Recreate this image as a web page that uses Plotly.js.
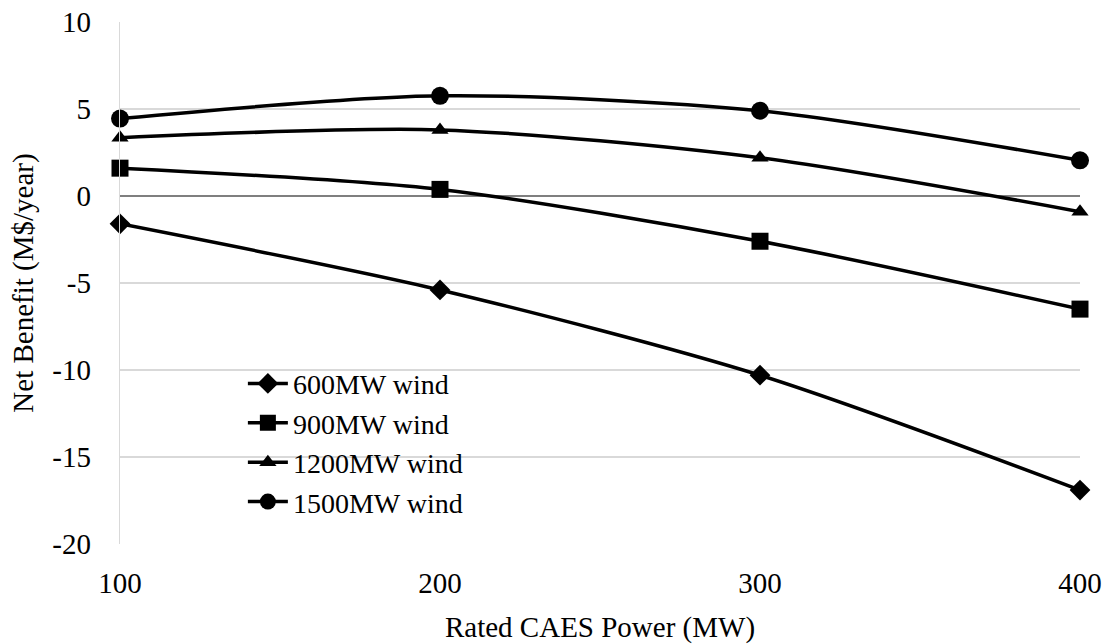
<!DOCTYPE html>
<html>
<head>
<meta charset="utf-8">
<script src="https://cdn.plot.ly/plotly-3.0.1.min.js"></script>
<style>html,body{margin:0;padding:0;background:#fff;}#chart{width:1110px;height:644px;}</style>
</head>
<body>
<div id="chart"></div>
<script>
const power = [100, 200, 300, 400];
const wind600 = [-1.6, -5.4, -10.3, -16.9];
const wind900 = [1.6, 0.38, -2.6, -6.5];
const wind1200 = [3.35, 3.8, 2.2, -0.9];
const wind1500 = [4.45, 5.76, 4.9, 2.05];
const seriesNames = ['600MW wind', '900MW wind', '1200MW wind', '1500MW wind'];
const seriesValues = [wind600, wind900, wind1200, wind1500];
const symbols = ['diamond', 'square', 'triangle-up', 'circle'];
const sizes = [16, 17, 15, 18];
const yTickVals = [-20, -15, -10, -5, 0, 5, 10];
const yTickText = ['-20', '-15', '-10', '-5', '0', '5', '10'];
const xTickVals = [100, 200, 300, 400];

const traces = seriesValues.map((vals, i) => ({
  x: power, y: vals, name: seriesNames[i], type: 'scatter', mode: 'lines+markers',
  line: {color: '#000', width: 3.5, shape: 'spline', smoothing: 0.8},
  marker: {symbol: symbols[i], size: sizes[i], color: '#000'},
  cliponaxis: false
}));

const FAM = 'Liberation Serif, Times New Roman, serif';
const layout = {
  width: 1110, height: 644,
  font: {family: FAM, size: 29, color: '#000'},
  margin: {l: 120, r: 30, t: 22, b: 100},
  paper_bgcolor: '#fff', plot_bgcolor: '#fff',
  showlegend: true,
  legend: {x: 0.128, y: 0.355, xanchor: 'left', yanchor: 'top', font: {family: FAM, size: 28, color: '#000'},
    bgcolor: 'rgba(0,0,0,0)', tracegroupgap: 0, itemwidth: 40},
  xaxis: {range: [100, 400], tickvals: xTickVals, showgrid: false, zeroline: false,
    showline: false, ticks: '', ticklabelstandoff: 19, tickfont: {family: FAM, size: 29, color: '#000'},
    title: {text: 'Rated CAES Power (MW)', font: {family: FAM, size: 29, color: '#000'}, standoff: 22}},
  yaxis: {range: [-20, 10], tickvals: yTickVals, ticktext: yTickText, showgrid: true, gridcolor: '#d9d9d9', gridwidth: 1.3,
    zeroline: true, zerolinecolor: '#7f7f7f', zerolinewidth: 2.5,
    showline: true, linecolor: '#d9d9d9', linewidth: 1.3, ticks: '', ticklabelstandoff: 22,
    tickfont: {family: FAM, size: 29, color: '#000'},
    title: {text: 'Net Benefit (M$/year)', font: {family: FAM, size: 29, color: '#000'}, standoff: 10}}
};
Plotly.newPlot('chart', traces, layout, {displayModeBar: false, staticPlot: true});
</script>
</body>
</html>
